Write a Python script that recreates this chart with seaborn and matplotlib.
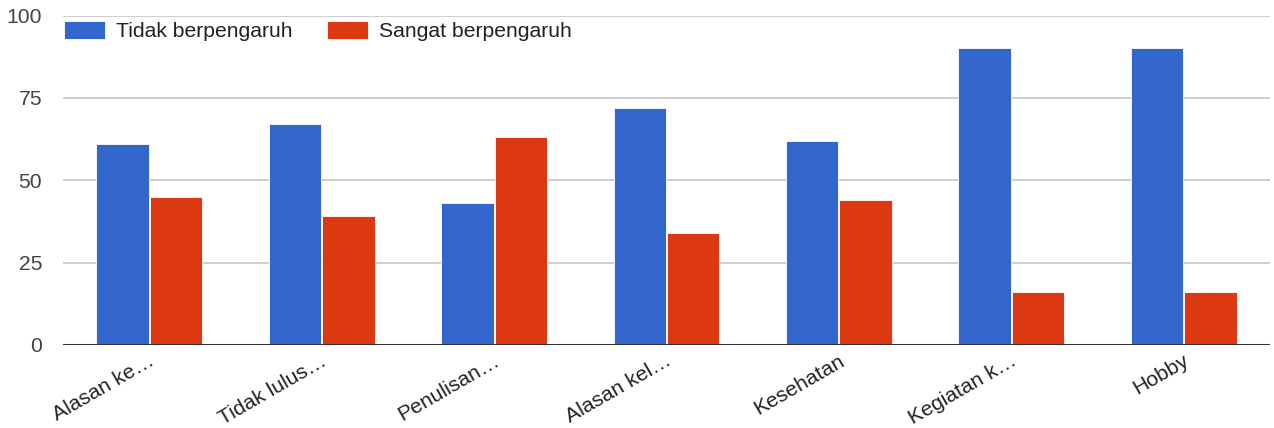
import matplotlib
matplotlib.use("Agg")
import matplotlib.pyplot as plt
import matplotlib.transforms as mtransforms
import seaborn as sns
import pandas as pd

categories = ["Alasan ke…", "Tidak lulus…", "Penulisan…", "Alasan kel…",
              "Kesehatan", "Kegiatan k…", "Hobby"]
series_names = ["Tidak berpengaruh", "Sangat berpengaruh"]
tidak = [61, 67, 43, 72, 62, 90, 90]
sangat = [45, 39, 63, 34, 44, 16, 16]
yticks = [0, 25, 50, 75, 100]
colors = ["#3366CC", "#DC3912"]

df = pd.DataFrame({
    "kategori": categories * 2,
    "seri": [series_names[0]] * len(categories) + [series_names[1]] * len(categories),
    "nilai": tidak + sangat,
})

sns.set_theme(style="white")
plt.rcParams["font.family"] = ["Liberation Sans", "DejaVu Sans"]

FS = 15.2
fig = plt.figure(figsize=(12.74, 4.28), dpi=100)
ax = fig.add_axes([63 / 1274, 1 - 345 / 428, (1270 - 63) / 1274, (345 - 15.5) / 428])

sns.barplot(data=df, x="kategori", y="nilai", hue="seri", order=categories,
            hue_order=series_names, palette=colors, width=0.62, gap=0.02,
            saturation=1, edgecolor="white", linewidth=0.6, ax=ax, legend=True)

ax.set_xlim(-0.5, len(categories) - 0.5)
ax.set_ylim(0, 100)
ax.set_yticks(yticks)
ax.set_xlabel("")
ax.set_ylabel("")
for s in ax.spines.values():
    s.set_visible(False)
ax.yaxis.grid(True, color="#cccccc", linewidth=1.3)
ax.set_axisbelow(True)
ax.axhline(0, color="#333333", linewidth=2.2, zorder=5)
ax.tick_params(axis="y", length=0, pad=15, labelsize=FS, labelcolor="#444444")
ax.tick_params(axis="x", length=0, pad=4.5, labelsize=FS, labelcolor="#222222")

offset = mtransforms.ScaledTranslation(-1 / 100, 0, fig.dpi_scale_trans)
for lbl in ax.get_xticklabels():
    lbl.set_rotation(30)
    lbl.set_ha("right")
    lbl.set_va("top")
    lbl.set_rotation_mode("anchor")
    lbl.set_transform(lbl.get_transform() + offset)

handles, labels = ax.get_legend_handles_labels()
ax.legend(handles, labels, loc="upper left", bbox_to_anchor=(64 / 1274, 1 - 21 / 428),
          bbox_transform=fig.transFigure, ncol=2, frameon=False, fontsize=FS,
          handlelength=1.95, handleheight=0.9, handletextpad=0.52,
          columnspacing=1.62, borderpad=0, borderaxespad=0, labelcolor="#222222")

fig.savefig("out.png", dpi=100)
